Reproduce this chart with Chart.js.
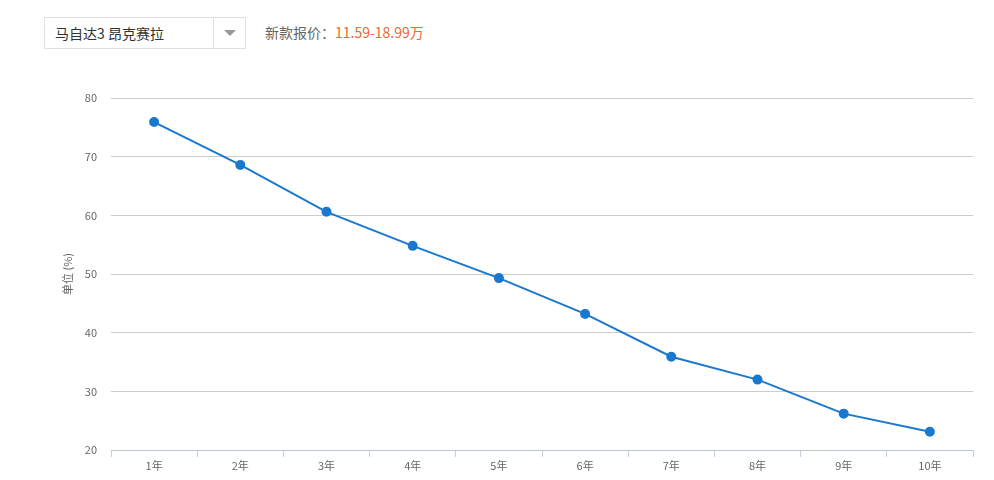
<!DOCTYPE html>
<html lang="zh">
<head>
    <meta charset="UTF-8">
    <title>保值率</title>
    <script src="https://cdn.jsdelivr.net/npm/chart.js"></script>
    <style>
        body { margin: 0; width: 994px; height: 480px; background: #fff; font-family: "Noto Sans CJK SC", sans-serif; position: relative; overflow: hidden; }
        .select { position: absolute; left: 44px; top: 17px; width: 200px; height: 30px; border: 1px solid #e0e0e0; box-sizing: content-box; }
        .select .name { position: absolute; left: 10px; top: 5px; font-size: 14px; color: #333; }
        .select .arrow { position: absolute; left: 168px; top: 0; width: 32px; height: 30px; border-left: 1px solid #e0e0e0; }
        .select .arrow:after { content: ""; position: absolute; left: 10px; top: 12px; border-left: 6px solid transparent; border-right: 6px solid transparent; border-top: 6px solid #999; }
        .price { position: absolute; left: 265px; top: 22px; font-size: 14px; color: #666; }
        .price span { color: #f0643c; }
        .chart-box { position: absolute; left: 0; top: 60px; width: 994px; height: 420px; }
    </style>
</head>
<body>
    <div class="select">
        <div class="name">马自达3 昂克赛拉</div>
        <div class="arrow"></div>
    </div>
    <div class="price">新款报价：<span>11.59-18.99万</span></div>
    <div class="chart-box"><canvas id="lineChart"></canvas></div>
    <script>
        const years = ['1年', '2年', '3年', '4年', '5年', '6年', '7年', '8年', '9年', '10年'];
        const rates = [75.9, 68.6, 60.6, 54.8, 49.3, 43.2, 35.9, 32.0, 26.2, 23.1];
        const yTicks = [20, 30, 40, 50, 60, 70, 80];

        const ctx = document.getElementById('lineChart').getContext('2d');
        new Chart(ctx, {
            type: 'line',
            data: {
                labels: years,
                datasets: [{
                    data: rates,
                    borderColor: '#1a78cf',
                    backgroundColor: '#1a78cf',
                    borderWidth: 2,
                    pointRadius: 4,
                    pointHoverRadius: 5,
                    tension: 0
                }]
            },
            options: {
                responsive: true,
                maintainAspectRatio: false,
                animation: false,
                layout: { padding: { top: 38, right: 21, left: 0, bottom: 0 } },
                plugins: { legend: { display: false }, tooltip: { enabled: false } },
                scales: {
                    x: {
                        offset: true,
                        grid: { offset: true, drawOnChartArea: false, tickLength: 7, color: '#c5d0da' },
                        border: { color: '#b8c4d0' },
                        ticks: { color: '#666', font: { size: 11, family: 'Noto Sans CJK SC' }, padding: 2 },
                        afterFit: s => { s.height = 30; }
                    },
                    y: {
                        min: 20,
                        max: 80,
                        afterBuildTicks: s => { s.ticks = yTicks.map(v => ({ value: v })); },
                        grid: { color: '#cccccc', drawTicks: false },
                        border: { display: false },
                        ticks: { color: '#666', font: { size: 11, family: 'Noto Sans CJK SC' }, padding: 14 },
                        title: { display: true, text: '单位 (%)', color: '#666', font: { size: 11, family: 'Noto Sans CJK SC' }, padding: { top: 61, bottom: 0 } },
                        afterFit: s => { s.width = 111; }
                    }
                }
            }
        });
    </script>
</body>
</html>
